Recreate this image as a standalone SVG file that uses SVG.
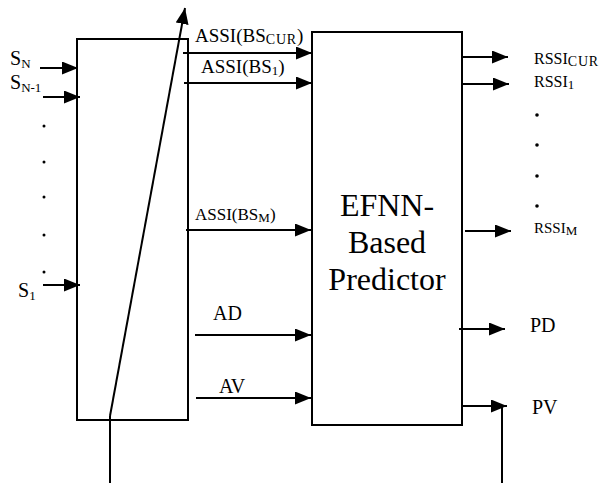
<svg xmlns="http://www.w3.org/2000/svg" width="616" height="483" viewBox="0 0 616 483">
<defs>
<marker id="ah" viewBox="0 0 16 13" refX="16" refY="6.5" markerWidth="16" markerHeight="13" markerUnits="userSpaceOnUse" orient="auto">
<path d="M0,0 L16,6.5 L0,13 Z" fill="#000"/>
</marker>
</defs>
<style>
text{fill:#000}
.box{fill:none;stroke:#000;stroke-width:2}
.c line{stroke:#000;stroke-width:2;fill:none}
.a{marker-end:url(#ah)}
.l{font-size:19px}
.m{font-size:20px}
.s{font-size:16px}
.sub{font-size:13px}
.cur{font-size:14px;letter-spacing:0.8px}
.big{font-size:32px}
</style>
<rect width="616" height="483" fill="#fff"/>
<g font-family="'Liberation Serif','Times New Roman',serif">
<g id="selector">
<rect class="box" x="77" y="39" width="111" height="381"/>
</g>
<g id="predictor">
<rect class="box" x="312" y="32" width="150" height="393"/>
<text class="big" x="387" y="216" text-anchor="middle">EFNN-</text>
<text class="big" x="387" y="253" text-anchor="middle">Based</text>
<text class="big" x="387" y="290" text-anchor="middle">Predictor</text>
</g>
<g id="labels">
<text class="m" x="10" y="65">S<tspan class="sub" dy="3">N</tspan></text>
<text class="m" x="10" y="89">S<tspan class="sub" dy="3">N-1</tspan></text>
<text class="m" x="18" y="297">S<tspan class="sub" dy="3">1</tspan></text>
<text class="l" x="195" y="42">ASSI(BS<tspan class="cur" dy="2">CUR</tspan><tspan dy="-2">)</tspan></text>
<text class="l" x="201" y="73">ASSI(BS<tspan class="sub" dy="2">1</tspan><tspan dy="-2">)</tspan></text>
<text style="font-size:17px" x="195" y="220">ASSI(BS<tspan class="sub" dy="2">M</tspan><tspan dy="-2">)</tspan></text>
<text class="m" x="213" y="320">AD</text>
<text class="m" x="219" y="393">AV</text>
<text class="s" x="534" y="64">RSSI<tspan class="cur" dy="2">CUR</tspan></text>
<text class="s" x="534" y="87">RSSI<tspan class="sub" dy="2">1</tspan></text>
<text style="font-size:15px" x="534" y="233">RSSI<tspan class="sub" dy="2">M</tspan></text>
<text class="m" x="530" y="332">PD</text>
<text class="m" x="532" y="414">PV</text>
</g>
</g>
<g id="dots" fill="#000">
<circle cx="44" cy="126" r="1.5"/>
<circle cx="44" cy="162" r="1.5"/>
<circle cx="44" cy="197" r="1.5"/>
<circle cx="44" cy="235" r="1.5"/>
<circle cx="44" cy="272" r="1.5"/>
<circle cx="537" cy="115" r="1.8"/>
<circle cx="537" cy="145" r="1.8"/>
<circle cx="537" cy="176" r="1.8"/>
<circle cx="537" cy="206" r="1.8"/>
</g>
<g id="connectors" class="c">
<line class="a" x1="40" y1="68" x2="78" y2="68"/>
<line class="a" x1="43" y1="97" x2="80" y2="97"/>
<line class="a" x1="43" y1="285" x2="80" y2="285"/>
<line class="a" x1="183" y1="53" x2="312" y2="53"/>
<line class="a" x1="184" y1="83" x2="312" y2="83"/>
<line class="a" x1="186" y1="230" x2="311" y2="230"/>
<line class="a" x1="195" y1="335" x2="311" y2="335"/>
<line class="a" x1="196" y1="398" x2="311" y2="398"/>
<line class="a" x1="462" y1="57" x2="508" y2="57"/>
<line class="a" x1="463" y1="84" x2="509" y2="84"/>
<line class="a" x1="465" y1="231" x2="511" y2="231"/>
<line class="a" x1="459" y1="329" x2="505" y2="329"/>
<line class="a" x1="462" y1="406" x2="507" y2="406"/>
<line x1="502" y1="406" x2="502" y2="483"/>
<line x1="110" y1="483" x2="110" y2="416"/>
<line class="a" x1="110" y1="416" x2="185" y2="8"/>
</g>
</svg>
